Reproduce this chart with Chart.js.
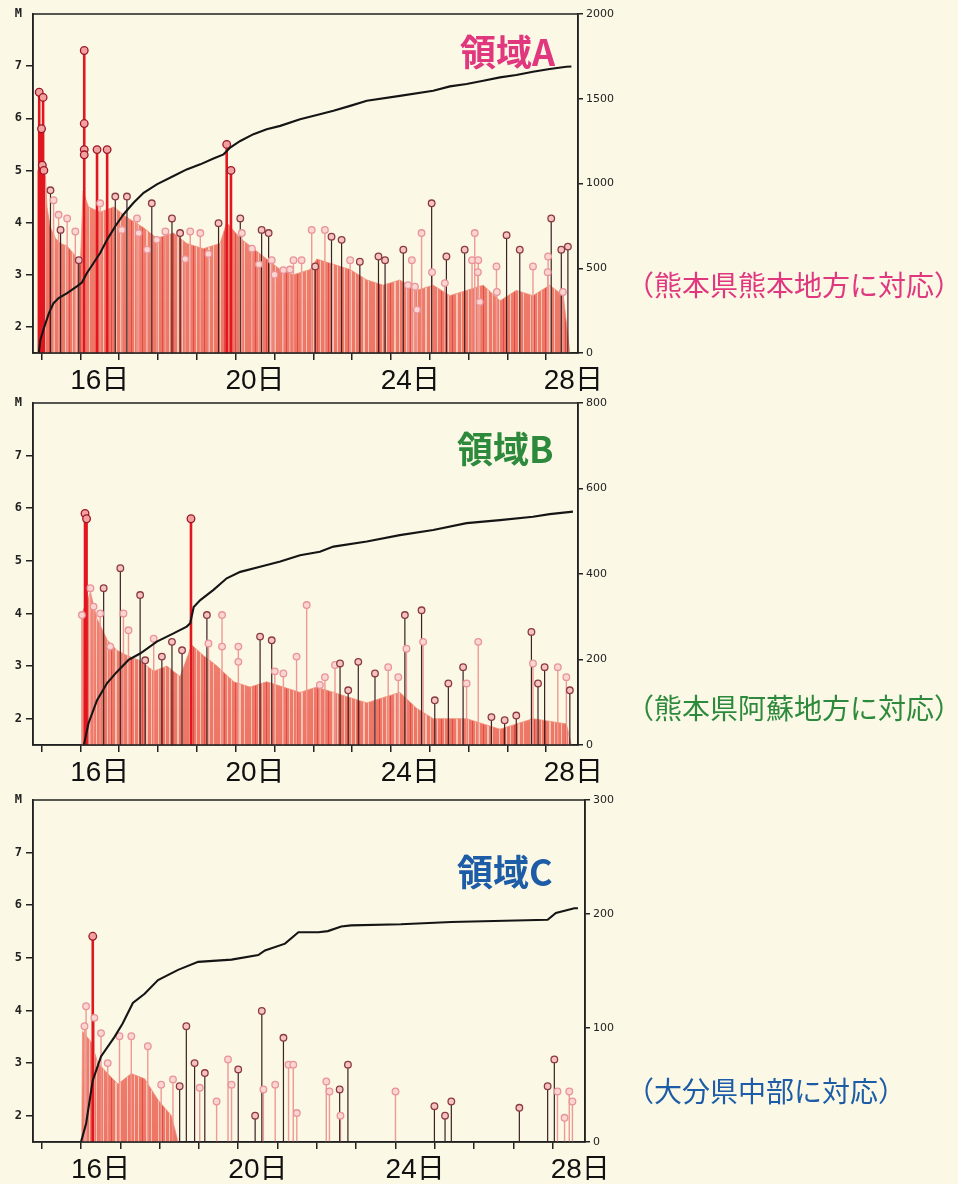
<!DOCTYPE html>
<html lang="ja">
<head>
<meta charset="UTF-8">
<title>M-T図 領域A・B・C</title>
<script src="https://cdn.jsdelivr.net/npm/chart.js"></script>
<style>
  body { margin: 0; width: 958px; height: 1184px; overflow: hidden; position: relative;
         background: #fbf8e6; font-family: "Noto Sans CJK JP", sans-serif; }
  canvas { position: absolute; left: 0; }
  .title { position: absolute; font-weight: bold; font-size: 36px; line-height: 1; }
  .note { position: absolute; left: 626px; font-size: 28px; line-height: 1; }
</style>
</head>
<body>
<canvas id="cA" width="640" height="398" style="top:0px"></canvas>
<canvas id="cB" width="640" height="401" style="top:389px"></canvas>
<canvas id="cC" width="647" height="401" style="top:786px"></canvas>

<div class="title" style="left:460px;top:32px;color:#e0377f">領域A</div>
<div class="title" style="left:457px;top:429px;color:#2d8a3c">領域B</div>
<div class="title" style="left:457px;top:852px;color:#1d5ca6">領域C</div>

<div class="note" style="top:270px;color:#e0377f">（熊本県熊本地方に対応）</div>
<div class="note" style="top:693px;color:#2d8a3c">（熊本県阿蘇地方に対応）</div>
<div class="note" style="top:1076px;color:#1d5ca6">（大分県中部に対応）</div>

<script>
// axis ticks (day of April / magnitude)
const xTickPos = [15, 16, 16.5, 17, 18, 19, 20, 20.5, 21, 22, 23, 24, 24.5, 25, 26, 27, 28, 28.7];
const xLabelDays = [16.5, 20.5, 24.5, 28.7];
const xLabels = ['16日', '20日', '24日', '28日'];
const mTicks = [2, 3, 4, 5, 6, 7, 8];
const aCountTicks = [0, 500, 1000, 1500, 2000];
const bCountTicks = [0, 200, 400, 600, 800];
const cCountTicks = [0, 100, 200, 300];

// 領域A : [day, M] / [day, cumulative count]
const aRed = [[14.94, 6.5], [15.0, 5.8], [15.04, 6.4], [15.02, 5.1], [15.06, 5.0], [16.1, 7.3], [16.1, 5.9],
  [16.1, 5.4], [16.1, 5.3], [16.43, 5.4], [16.69, 5.4], [19.77, 5.5], [19.88, 5.0]];
const aDark = [[15.23, 4.62], [15.49, 3.86], [15.96, 3.28], [16.9, 4.5], [17.2, 4.5], [17.84, 4.37], [18.36, 4.08],
  [18.57, 3.8], [19.56, 3.99], [20.12, 4.08], [20.67, 3.86], [20.85, 3.8], [22.05, 3.16], [22.47, 3.73],
  [22.73, 3.67], [23.2, 3.25], [23.68, 3.35], [23.85, 3.28], [24.32, 3.48], [25.05, 4.37], [25.43, 3.35],
  [25.9, 3.48], [26.98, 3.76], [27.32, 3.48], [28.13, 4.08], [28.39, 3.48], [28.56, 3.54]];
const aPink = [[15.31, 4.43], [15.44, 4.15], [15.66, 4.08], [15.87, 3.83], [16.51, 4.37], [17.07, 3.86],
  [17.46, 4.08], [17.5, 3.8], [17.72, 3.48], [17.97, 3.67], [18.19, 3.83], [18.7, 3.3], [18.83, 3.83],
  [19.09, 3.8], [19.3, 3.4], [20.16, 3.8], [20.42, 3.5], [20.6, 3.2], [20.93, 3.28], [21.0, 3.0], [21.23, 3.09],
  [21.4, 3.1], [21.49, 3.28], [21.7, 3.28], [21.96, 3.86], [22.3, 3.86], [22.95, 3.28], [24.44, 2.8],
  [24.54, 3.28], [24.62, 2.77], [24.67, 2.33], [24.79, 3.8], [25.06, 3.05], [25.39, 2.84], [26.09, 3.28],
  [26.16, 3.8], [26.24, 3.05], [26.25, 3.28], [26.29, 2.48], [26.72, 3.16], [26.73, 2.67], [27.66, 3.16],
  [28.04, 3.05], [28.05, 3.35], [28.43, 2.67]];
const aEnv = [[14.89, 1.5], [14.9, 5.0], [15.1, 4.9], [15.14, 4.3], [15.23, 3.9], [15.36, 3.7], [15.49, 3.6],
  [15.66, 3.55], [15.83, 3.4], [16.0, 3.2], [16.07, 4.6], [16.21, 4.3], [16.51, 4.2], [16.86, 4.3], [17.2, 4.1],
  [17.63, 3.9], [17.97, 3.7], [18.4, 3.8], [18.74, 3.6], [19.17, 3.5], [19.6, 3.6], [19.77, 4.0], [20.12, 3.7],
  [20.46, 3.5], [20.8, 3.3], [21.15, 3.1], [21.49, 3.0], [21.92, 3.1], [22.09, 3.3], [22.52, 3.2], [22.95, 3.1],
  [23.38, 2.9], [23.8, 2.8], [24.23, 2.9], [24.66, 2.7], [25.09, 2.8], [25.52, 2.6], [25.95, 2.7], [26.38, 2.8],
  [26.81, 2.5], [27.23, 2.7], [27.66, 2.6], [28.09, 2.8], [28.44, 2.6], [28.61, 1.5]];
const aCum = [[14.93, 0], [14.97, 77], [15.06, 146], [15.19, 235], [15.31, 294], [15.44, 324], [15.66, 353],
  [15.91, 393], [16.04, 416], [16.17, 472], [16.34, 531], [16.51, 590], [16.69, 669], [16.9, 748], [17.11, 817],
  [17.37, 886], [17.63, 945], [17.97, 995], [18.4, 1044], [18.74, 1083], [19.09, 1113], [19.43, 1147],
  [19.69, 1172], [19.86, 1212], [20.12, 1251], [20.46, 1291], [20.8, 1320], [21.15, 1340], [21.66, 1379],
  [22.17, 1409], [22.52, 1429], [22.95, 1458], [23.38, 1488], [24.23, 1517], [25.09, 1547], [25.52, 1573],
  [25.95, 1587], [26.38, 1606], [26.81, 1626], [27.23, 1640], [27.66, 1659], [28.09, 1675], [28.52, 1689],
  [28.65, 1690]];

// 領域B
const bRed = [[16.12, 5.9], [16.16, 5.8], [18.85, 5.8]];
const bDark = [[16.6, 4.48], [17.03, 4.86], [17.54, 4.35], [17.67, 3.11], [18.1, 3.18], [18.36, 3.46], [18.62, 3.3],
  [19.26, 3.97], [20.63, 3.56], [20.93, 3.49], [22.69, 3.05], [22.9, 2.54], [23.16, 3.08], [23.59, 2.86],
  [24.36, 3.97], [24.79, 4.06], [25.13, 2.35], [25.48, 2.67], [25.86, 2.98], [26.59, 2.03], [26.93, 1.97],
  [27.23, 2.06], [27.62, 3.65], [27.79, 2.67], [27.96, 2.98], [28.61, 2.54]];
const bPink = [[16.04, 3.97], [16.26, 4.48], [16.34, 4.13], [16.51, 4.0], [16.77, 3.37], [17.11, 4.0], [17.24, 3.68],
  [17.89, 3.52], [19.3, 3.43], [19.65, 3.97], [19.65, 3.37], [20.07, 3.37], [20.07, 3.08], [21.01, 2.9],
  [21.23, 2.86], [21.57, 3.18], [21.83, 4.16], [22.17, 2.64], [22.3, 2.79], [22.56, 3.02], [23.93, 2.98],
  [24.19, 2.79], [24.4, 3.33], [24.83, 3.46], [25.95, 2.67], [26.25, 3.46], [27.66, 3.05], [28.3, 2.98],
  [28.52, 2.79]];
const bEnv = [[16.03, 1.5], [16.04, 4.0], [16.26, 4.4], [16.43, 3.9], [16.69, 3.5], [16.94, 3.3], [17.2, 3.2],
  [17.54, 3.1], [17.89, 2.9], [18.23, 3.0], [18.57, 2.8], [18.87, 3.4], [19.17, 3.2], [19.52, 3.0], [19.95, 2.7],
  [20.37, 2.6], [20.8, 2.7], [21.23, 2.6], [21.66, 2.5], [22.09, 2.6], [22.52, 2.5], [22.95, 2.4], [23.38, 2.3],
  [23.8, 2.4], [24.23, 2.5], [24.66, 2.2], [25.09, 2.0], [25.95, 2.0], [26.81, 1.8], [27.66, 2.0], [28.52, 1.9],
  [28.65, 1.5]];
const bCum = [[16.09, 0], [16.21, 51], [16.43, 105], [16.69, 145], [16.94, 171], [17.24, 199], [17.54, 214],
  [17.97, 242], [18.4, 261], [18.74, 277], [18.83, 285], [18.92, 323], [19.09, 339], [19.43, 363], [19.77, 390],
  [20.12, 405], [20.63, 417], [21.15, 429], [21.66, 444], [22.17, 452], [22.52, 464], [23.38, 476], [24.23, 491],
  [25.09, 503], [25.95, 519], [26.81, 526], [27.66, 534], [28.09, 540], [28.69, 546]];

// 領域C
const cRed = [[16.3, 5.41]];
const cDark = [[18.51, 2.56], [18.68, 3.7], [18.89, 3.0], [19.15, 2.81], [20.0, 2.88], [20.43, 2.0], [20.6, 3.99],
  [21.15, 3.48], [22.58, 2.5], [22.79, 2.97], [24.99, 2.18], [25.26, 2.0], [25.42, 2.27], [27.15, 2.15],
  [27.87, 2.56], [28.04, 3.07]];
const cPink = [[16.09, 3.7], [16.13, 4.08], [16.34, 3.86], [16.51, 3.57], [16.68, 3.0], [16.98, 3.51], [17.28, 3.51],
  [17.7, 3.32], [18.04, 2.59], [18.34, 2.69], [19.02, 2.53], [19.45, 2.27], [19.74, 3.07], [19.83, 2.59],
  [20.64, 2.5], [20.94, 2.59], [21.28, 2.97], [21.4, 2.97], [21.49, 2.05], [22.24, 2.65], [22.32, 2.46],
  [22.6, 2.0], [24.0, 2.46], [28.12, 2.46], [28.3, 1.96], [28.42, 2.46], [28.5, 2.27]];
const cEnv = [[16.02, 1.5], [16.04, 3.6], [16.26, 3.4], [16.43, 3.0], [16.68, 2.8], [16.94, 2.6], [17.28, 2.8],
  [17.62, 2.7], [17.96, 2.3], [18.3, 2.0], [18.47, 1.5]];
const cCum = [[16.0, 0], [16.13, 16], [16.3, 54], [16.51, 75], [16.85, 92], [17.06, 104], [17.32, 122], [17.62, 130],
  [17.96, 142], [18.47, 151], [18.98, 158], [19.83, 160], [20.51, 164], [20.68, 168], [21.19, 174], [21.53, 184],
  [22.04, 184], [22.28, 185], [22.62, 189], [22.87, 190], [24.14, 191], [25.42, 193], [27.87, 195], [28.08, 201],
  [28.55, 205], [28.64, 205]];

const M_MIN = 1.5, M_MAX = 8;
const X_MIN = 14.78, X_MAX = 28.82;
const NONE = 'rgba(0,0,0,0)';

// one vertical stem per event, broken by a null point
function stems(list) {
  return list.flatMap(([t, m]) => [{x: t, y: M_MIN}, {x: t, y: m}, {x: t, y: null}]);
}
function pts(list) {
  return list.map(([x, y]) => ({x, y}));
}

// salmon fill of the dense swarm: vertical shading with thin light streaks
function swarmFill(ctx) {
  const tile = document.createElement('canvas');
  tile.width = 31;
  tile.height = 400;
  const t = tile.getContext('2d');
  const g = t.createLinearGradient(0, 0, 0, 400);
  g.addColorStop(0, 'rgba(242,140,120,0.8)');
  g.addColorStop(0.55, 'rgba(239,118,100,0.92)');
  g.addColorStop(1, 'rgba(236,108,92,0.96)');
  t.fillStyle = g;
  t.fillRect(0, 0, 31, 400);
  t.fillStyle = 'rgba(250,222,206,0.75)';
  [[3, 1], [10, 1], [14, 1], [22, 2], [27, 1]].forEach(([x, w]) => t.fillRect(x, 0, w, 400));
  t.fillStyle = 'rgba(214,40,44,0.55)';
  [[7, 1], [18, 1]].forEach(([x, w]) => t.fillRect(x, 0, w, 400));
  return ctx.createPattern(tile, 'repeat');
}

const frame = {
  id: 'frame',
  afterDatasetsDraw(chart) {
    const {ctx, chartArea: a} = chart;
    ctx.save();
    ctx.strokeStyle = '#222';
    ctx.lineWidth = 1.5;
    ctx.strokeRect(a.left, a.top, a.right - a.left, a.bottom - a.top);
    ctx.restore();
  }
};

function mtChart(id, p) {
  const canvas = document.getElementById(id);
  const stemLine = (list, color, width, order) => ({
    data: stems(list), yAxisID: 'yM', borderColor: color, borderWidth: width,
    pointRadius: 0, spanGaps: false, order
  });
  const dots = (list, r, edge, face, order) => ({
    type: 'scatter', data: pts(list), yAxisID: 'yM', pointRadius: r,
    borderColor: edge, backgroundColor: face, borderWidth: 1.3, order
  });
  new Chart(canvas, {
    type: 'line',
    data: {
      datasets: [
        {data: pts(p.cum), yAxisID: 'yN', borderColor: '#151515', borderWidth: 2.1, pointRadius: 0, order: 0},
        dots(p.red, 3.8, '#9c1624', '#f2a0a0', 1),
        dots(p.dark, 3.3, '#8a3a44', '#f6c3bf', 2),
        dots(p.pink, 3.3, '#e9939a', '#fbd6d1', 3),
        stemLine(p.red, '#e2161f', 2.6, 4),
        stemLine(p.dark, '#3b2224', 1.2, 5),
        stemLine(p.pink, '#ef9a92', 1.4, 6),
        {data: pts(p.env), yAxisID: 'yM', fill: 'start', backgroundColor: swarmFill(canvas.getContext('2d')),
          borderColor: 'rgba(240,140,120,0.8)', borderWidth: 1, pointRadius: 0, order: 7}
      ]
    },
    options: {
      responsive: false,
      animation: false,
      events: [],
      layout: {padding: {top: 14, left: 0, right: 0, bottom: 0}},
      plugins: {legend: {display: false}, tooltip: {enabled: false}},
      scales: {
        x: {
          type: 'linear', min: X_MIN, max: X_MAX,
          afterBuildTicks: s => { s.ticks = xTickPos.map(v => ({value: v})); },
          afterFit: s => { s.height = 45; },
          border: {color: '#222', width: 1.5},
          grid: {drawOnChartArea: false, tickLength: 7, lineWidth: 1.5,
            color: c => (c.tick && Number.isInteger(c.tick.value)) ? '#222' : NONE},
          ticks: {
            autoSkip: false, maxRotation: 0, minRotation: 0, padding: 4, color: '#111',
            font: {family: '"Liberation Sans", "Noto Sans CJK JP", sans-serif', size: 28},
            callback: v => { const i = xLabelDays.indexOf(v); return i < 0 ? '' : xLabels[i]; }
          }
        },
        yM: {
          position: 'left', min: M_MIN, max: M_MAX,
          afterBuildTicks: s => { s.ticks = mTicks.map(v => ({value: v})); },
          afterFit: s => { s.width = 33; },
          border: {color: '#222', width: 1.5},
          grid: {drawOnChartArea: false, tickLength: 7, lineWidth: 1.5,
            color: c => (c.tick && c.tick.value === 8) ? NONE : '#222'},
          ticks: {padding: 4, color: '#222', font: {family: '"DejaVu Sans Mono"', weight: 'bold', size: 12},
            callback: v => v === 8 ? 'M' : String(v)}
        },
        yN: {
          position: 'right', min: 0, max: p.nTicks[p.nTicks.length - 1],
          afterBuildTicks: s => { s.ticks = p.nTicks.map(v => ({value: v})); },
          afterFit: s => { s.width = canvas.width - p.right; },
          border: {color: '#222', width: 1.5},
          grid: {drawOnChartArea: false, tickLength: 5, lineWidth: 1.5, color: '#222'},
          ticks: {padding: 3, color: '#222', font: {family: '"DejaVu Sans"', size: 11},
            callback: v => String(v)}
        }
      }
    },
    plugins: [frame]
  });
}

mtChart('cA', {red: aRed, dark: aDark, pink: aPink, env: aEnv, cum: aCum, nTicks: aCountTicks, right: 578});
mtChart('cB', {red: bRed, dark: bDark, pink: bPink, env: bEnv, cum: bCum, nTicks: bCountTicks, right: 578});
mtChart('cC', {red: cRed, dark: cDark, pink: cPink, env: cEnv, cum: cCum, nTicks: cCountTicks, right: 585});
</script>
</body>
</html>
